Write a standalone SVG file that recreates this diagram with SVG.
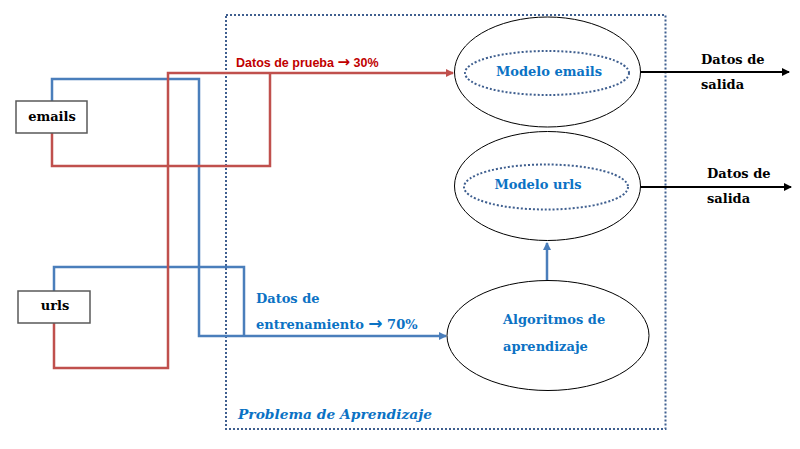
<svg xmlns="http://www.w3.org/2000/svg" width="800" height="449" viewBox="0 0 800 449">
<style>
.box{fill:#fff;stroke:#595959;stroke-width:1.5}
.ell{fill:#fff;stroke:#000;stroke-width:1}
.inner{fill:none;stroke:#3f5f8f;stroke-width:2;stroke-dasharray:2 2}
.frame{fill:none;stroke:#3f5f8f;stroke-width:2;stroke-dasharray:2 2}
.red{fill:none;stroke:#c0504d;stroke-width:2.5}
.blue{fill:none;stroke:#4a7ebb;stroke-width:2.5}
.blk{fill:none;stroke:#000;stroke-width:2}
.t{font-family:"DejaVu Serif","Liberation Serif",serif;font-weight:bold;font-size:13px}
.bl{fill:#0b72c4}
.k{fill:#000}
.s{font-family:"Liberation Sans","DejaVu Sans",sans-serif;font-weight:bold;font-size:12.5px;fill:#c00000}
.arw{font-family:"DejaVu Sans",sans-serif;font-weight:bold}
</style>
<defs>
<marker id="ar" markerWidth="8" markerHeight="8" refX="7" refY="4" orient="auto" markerUnits="userSpaceOnUse"><path d="M0,0 L8,4 L0,8 Z" fill="#c0504d"/></marker>
<marker id="ab" markerWidth="8" markerHeight="8" refX="7" refY="4" orient="auto" markerUnits="userSpaceOnUse"><path d="M0,0 L8,4 L0,8 Z" fill="#4a7ebb"/></marker>
<marker id="ak" markerWidth="8" markerHeight="8" refX="7" refY="4" orient="auto" markerUnits="userSpaceOnUse"><path d="M0,0 L8,4 L0,8 Z" fill="#000"/></marker>
</defs>
<rect width="800" height="449" fill="#fff"/>
<g id="frame">
<rect class="frame" x="226" y="15" width="439.5" height="414"/>
<text class="t bl" x="238" y="419" style="font-style:italic;font-size:13.8px">Problema de Aprendizaje</text>
</g>
<g id="connectors">
<path class="blue" d="M52,101 V79 H199 V336 H446" marker-end="url(#ab)"/>
<path class="blue" d="M54,291 V267 H244 V336"/>
<path class="red" d="M52,133 V166 H270 V73"/>
<path class="red" d="M54,323 V368 H168 V73 H453" marker-end="url(#ar)"/>
<path class="blue" d="M547,280 V243" marker-end="url(#ab)"/>
<path class="blk" d="M640,72 H789" marker-end="url(#ak)"/>
<path class="blk" d="M640,187 H791" marker-end="url(#ak)"/>
<text class="s" x="236" y="67">Datos de prueba <tspan class="arw" style="font-size:15px">→</tspan> 30%</text>
<text class="t bl" x="256" y="303">Datos de</text>
<text class="t bl" x="256" y="329">entrenamiento <tspan class="arw" style="font-size:17px">→</tspan> 70%</text>
<text class="t k" x="701" y="64">Datos de</text>
<text class="t k" x="701" y="89">salida</text>
<text class="t k" x="707" y="178">Datos de</text>
<text class="t k" x="707" y="203">salida</text>
</g>
<g id="emails">
<rect class="box" x="16" y="101" width="71" height="32"/>
<text class="t k" x="52" y="121" text-anchor="middle">emails</text>
</g>
<g id="urls">
<rect class="box" x="18" y="291" width="72" height="32"/>
<text class="t k" x="55" y="310" text-anchor="middle">urls</text>
</g>
<g id="modelo-emails">
<ellipse class="ell" cx="547.5" cy="72" rx="93" ry="55"/>
<ellipse class="inner" cx="547" cy="73" rx="82" ry="22"/>
<text class="t bl" x="549" y="76" text-anchor="middle">Modelo emails</text>
</g>
<g id="modelo-urls">
<ellipse class="ell" cx="547.5" cy="186" rx="93" ry="54.5"/>
<ellipse class="inner" cx="546" cy="187" rx="82" ry="22.5"/>
<text class="t bl" x="538" y="189" text-anchor="middle">Modelo urls</text>
</g>
<g id="algoritmos">
<ellipse class="ell" cx="548" cy="335.5" rx="101" ry="55"/>
<text class="t bl" x="503" y="324">Algoritmos de</text>
<text class="t bl" x="503" y="351">aprendizaje</text>
</g>
</svg>
